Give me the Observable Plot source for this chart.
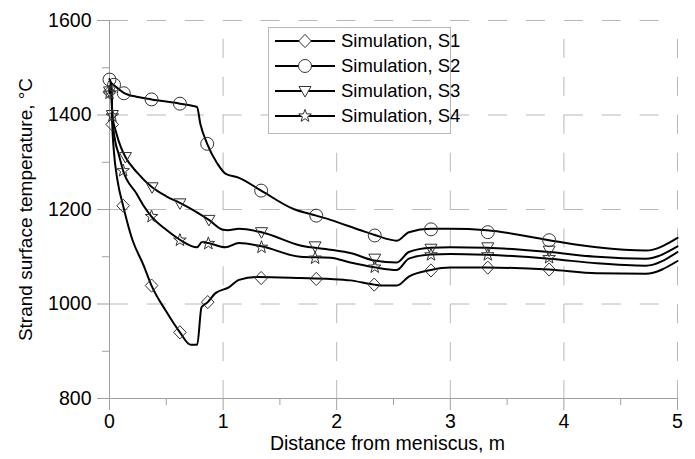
<!DOCTYPE html>
<html><head><meta charset="utf-8">
<script src="https://cdn.jsdelivr.net/npm/d3@7"></script>
<script src="https://cdn.jsdelivr.net/npm/@observablehq/plot@0.6"></script>
<style>
body{margin:0;background:#fff;}
#chart{position:relative;width:695px;height:459px;}
#legend{position:absolute;left:0;top:0;pointer-events:none;}
</style></head><body><div id="chart"></div>
<script>
// ---- data ----
const seriesNames = ["Simulation, S1", "Simulation, S2", "Simulation, S3", "Simulation, S4"];
const xTitle = "Distance from meniscus, m";
const yTitle = "Strand surface temperature, \u00B0C";
const xTicks = [0, 1, 2, 3, 4, 5];
const xMinorTicks = [0.5, 1.5, 2.5, 3.5, 4.5];
const yTicks = [800, 1000, 1200, 1400, 1600];
const yMinorTicks = [900, 1100, 1300, 1500];

// simulated curves [distance m, temperature °C]
const s1Line = [[0,1448],[0.015,1466],[0.024,1381],[0.038,1325],[0.07,1262],[0.12,1208],[0.2,1137],[0.3,1082],[0.37,1039],[0.5,984],[0.62,940],[0.713,914],[0.772,914],[0.81,993],[0.865,1004],[0.933,1023],[1.05,1035],[1.14,1051],[1.3,1057],[1.68,1055],[1.945,1053],[2.12,1050],[2.33,1041],[2.415,1039],[2.53,1039],[2.635,1058],[2.83,1072],[3.0,1077],[3.32,1077],[3.87,1073],[4.29,1065],[4.72,1064],[5.0,1091]];
const s2Line = [[0,1476],[0.015,1468],[0.04,1463],[0.126,1447],[0.25,1438],[0.37,1433],[0.62,1424],[0.77,1417],[0.80,1381],[0.86,1339],[0.95,1297],[1.02,1276],[1.14,1267],[1.335,1240],[1.62,1201],[1.82,1187],[1.945,1178],[2.21,1156],[2.335,1146],[2.53,1134],[2.635,1152],[2.83,1159],[3.0,1159],[3.32,1156],[3.87,1135],[4.29,1120],[4.72,1113],[5.0,1140]];
const s3Line = [[0,1450],[0.015,1466],[0.025,1400],[0.06,1362],[0.1,1332],[0.14,1311],[0.24,1279],[0.375,1247],[0.5,1228],[0.62,1214],[0.77,1194],[0.875,1178],[1.0,1157],[1.04,1156],[1.14,1159],[1.338,1152],[1.68,1124],[1.945,1115],[2.12,1108],[2.33,1092],[2.53,1088],[2.635,1110],[2.83,1119],[3.0,1120],[3.32,1119],[3.87,1110],[4.29,1100],[4.72,1096],[5.0,1122]];
const s4Line = [[0,1446],[0.015,1466],[0.025,1398],[0.05,1345],[0.08,1318],[0.12,1282],[0.24,1233],[0.3,1208],[0.37,1185],[0.5,1157],[0.62,1136],[0.77,1120],[0.815,1131],[0.87,1129],[1.02,1120],[1.14,1129],[1.338,1122],[1.68,1100],[1.945,1098],[2.12,1088],[2.33,1078],[2.53,1072],[2.635,1096],[2.83,1105],[3.0,1106],[3.32,1104],[3.87,1096],[4.29,1086],[4.72,1081],[5.0,1110]];

// marker points
const s1Marks = [[0,1448],[0.024,1380],[0.12,1208],[0.37,1039],[0.62,940],[0.865,1004],[1.335,1055],[1.82,1053],[2.33,1041],[2.83,1071],[3.33,1077],[3.87,1073]];
const s2Marks = [[0,1475],[0.04,1464],[0.126,1446],[0.37,1433],[0.62,1424],[0.86,1339],[1.335,1240],[1.82,1187],[2.335,1145],[2.83,1158],[3.33,1152],[3.87,1135]];
const s3Marks = [[0,1450],[0.025,1400],[0.14,1311],[0.375,1247],[0.62,1213],[0.875,1178],[1.338,1152],[1.81,1122],[2.335,1096],[2.83,1117],[3.33,1120],[3.87,1113]];
const s4Marks = [[0,1446],[0.025,1398],[0.12,1282],[0.37,1185],[0.62,1135],[0.87,1128],[1.338,1120],[1.81,1097],[2.335,1078],[2.83,1104],[3.33,1104],[3.87,1098]];

// ---- symbols ----
const symDiamond = {draw(c, size){ const s = Math.sqrt(size/Math.PI); c.moveTo(0,-1.1*s); c.lineTo(1.05*s,0); c.lineTo(0,1.1*s); c.lineTo(-1.05*s,0); c.closePath(); }};
const symCircle = {draw(c, size){ const s = Math.sqrt(size/Math.PI)*1.08; c.moveTo(s,0); c.arc(0,0,s,0,2*Math.PI); }};
const symTriDown = {draw(c, size){ const s = Math.sqrt(size/Math.PI); c.moveTo(-1.0*s,-0.75*s); c.lineTo(1.0*s,-0.75*s); c.lineTo(0,1.0*s); c.closePath(); }};
const symStar = {draw(c, size){ const s = Math.sqrt(size/Math.PI); const R = 1.1*s, r = 0.45*s;
  for (let i = 0; i < 10; i++){ const a = -Math.PI/2 + i*Math.PI/5; const rr = i%2 ? r : R; const px = rr*Math.cos(a), py = rr*Math.sin(a); if (i===0) c.moveTo(px,py); else c.lineTo(px,py);} c.closePath(); }};
const symbols = [symDiamond, symCircle, symTriDown, symStar];

const lines = [s1Line, s2Line, s3Line, s4Line];
const markSets = [s1Marks, s2Marks, s3Marks, s4Marks];
const lineData = lines.flatMap((arr, i) => arr.map(([x, t]) => ({series: seriesNames[i], x, t})));

const font = "'Liberation Sans', Arial, sans-serif";
const gridStyle = {stroke: "#b8b8b8", strokeOpacity: 1, strokeWidth: 1, strokeDasharray: "19,18.9"};

const plot = Plot.plot({
  width: 695, height: 459,
  marginLeft: 109, marginRight: 18, marginTop: 20, marginBottom: 61,
  style: {fontFamily: font, fontSize: "18px", color: "#000", background: "#fff"},
  x: {domain: [0, 5], axis: null},
  y: {domain: [800, 1600], axis: null},
  marks: [
    Plot.gridY(yTicks.filter(v => v > 800), gridStyle),
    Plot.gridX(xTicks.filter(v => v > 0), {...gridStyle, strokeDashoffset: 19}),
    Plot.ruleX([0], {stroke: "#a0a0a0"}),
    Plot.ruleY([800], {stroke: "#a0a0a0"}),
    Plot.axisY(yMinorTicks, {tickSize: 7, stroke: "#a0a0a0", fill: "none", label: null}),
    Plot.axisX(xMinorTicks, {tickSize: 7, stroke: "#a0a0a0", fill: "none", label: null}),
    Plot.axisY(yTicks, {tickSize: 12, tickPadding: 6, stroke: "#a0a0a0", fill: "#000", fontSize: 19.5,
      tickFormat: d => String(d), label: null}),
    Plot.axisX(xTicks, {tickSize: 12, tickPadding: 4, stroke: "#a0a0a0", fill: "#000", fontSize: 19.5,
      tickFormat: d => String(d), label: null}),
    Plot.text([yTitle], {text: d => d, frameAnchor: "left", rotate: -90, lineAnchor: "middle", textAnchor: "middle",
      dx: -84, dy: 0, fontSize: 19, fill: "#000"}),
    Plot.text([xTitle], {text: d => d, frameAnchor: "bottom", lineAnchor: "bottom", textAnchor: "middle",
      dx: -6, dy: 51, fontSize: 19.5, fill: "#000"}),
    Plot.line(lineData, {x: "x", y: "t", z: "series", stroke: "#000", strokeWidth: 2, curve: "monotone-x"}),
    ...markSets.map((m, i) => Plot.dot(m, {x: d => d[0], y: d => d[1], symbol: symbols[i], r: 6, stroke: "#333", strokeWidth: 1, fill: "none"}))
  ]
});
const chart = document.getElementById("chart");
chart.appendChild(plot);

// ---- legend overlay ----
const svg = d3.select(chart).append("svg").attr("id", "legend").attr("width", 695).attr("height", 459);
svg.append("rect").attr("x", 268.5).attr("y", 27.5).attr("width", 182).attr("height", 106)
  .attr("fill", "#fff").attr("stroke", "#b8b8b8");
seriesNames.forEach((name, i) => {
  const cy = 41 + i * 25;
  const g = svg.append("g");
  g.append("line").attr("x1", 275).attr("x2", 335).attr("y1", cy).attr("y2", cy).attr("stroke", "#000").attr("stroke-width", 2);
  g.append("path").attr("transform", `translate(305,${cy})`).attr("d", d3.symbol(symbols[i], 36 * Math.PI)())
    .attr("fill", "#fff").attr("stroke", "#333");
  g.append("text").attr("x", 341).attr("y", cy).attr("dy", "0.35em").attr("font-family", font).attr("font-size", 18.5)
    .attr("fill", "#000").text(name);
});
</script></body></html>
